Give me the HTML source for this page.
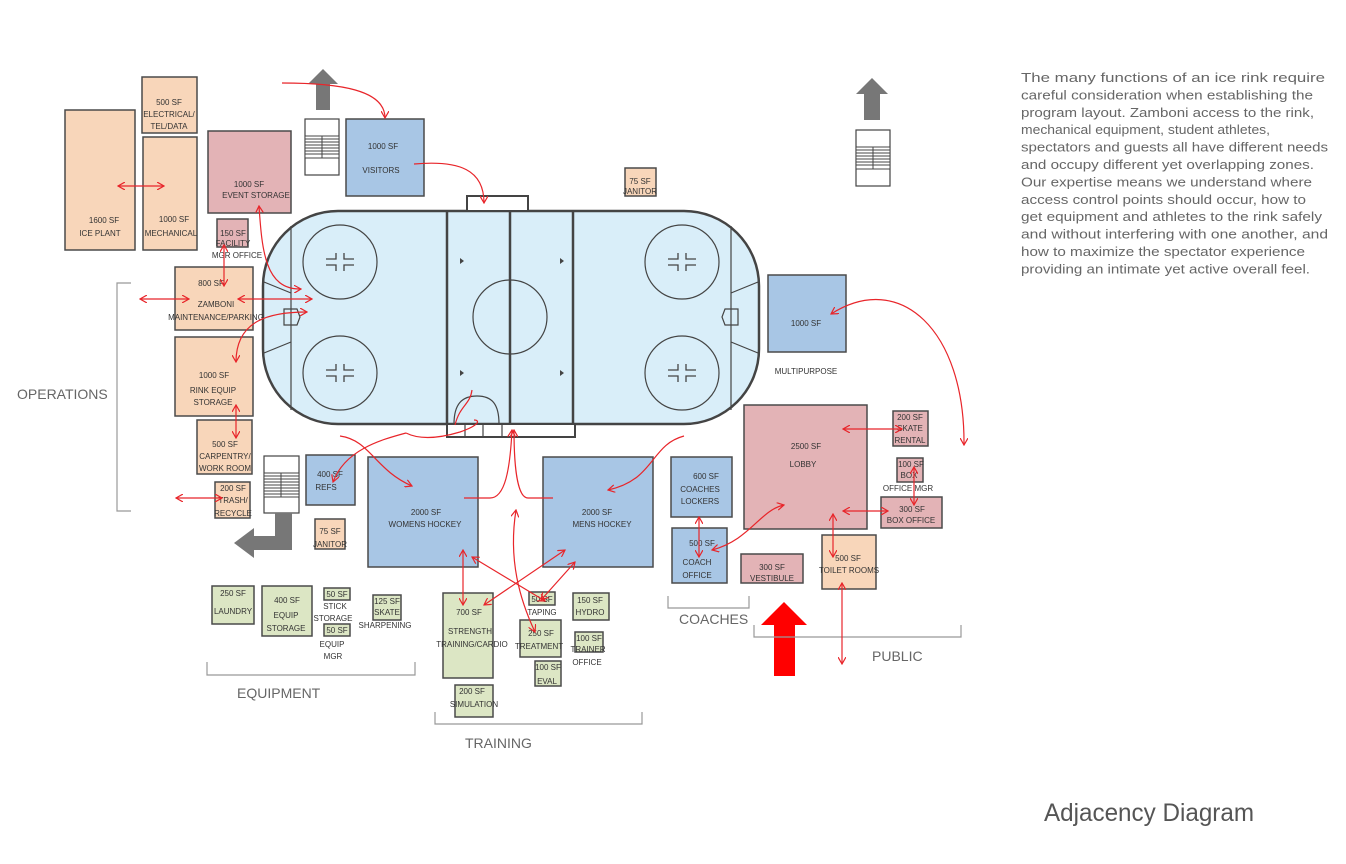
<!DOCTYPE html>
<html><head><meta charset="utf-8"><style>
html,body{margin:0;padding:0;background:#fff;}
svg{display:block;font-family:"Liberation Sans",sans-serif;}
.b{stroke:#4a4a4a;stroke-width:1.5;}
.o{fill:#f8d6ba}.p{fill:#e3b3b6}.u{fill:#a8c6e5}.g{fill:#dce6c4}
.l{font-size:8px;fill:#333;text-anchor:middle;}
.r{fill:none;stroke:#e8252a;stroke-width:1.2;}
.k{fill:none;stroke:#999;stroke-width:1.2;}
.z{font-size:14px;fill:#666;}
.t{font-size:13px;fill:#666;}
.rk{fill:none;stroke:#444;stroke-width:1.2;}
</style></head><body>
<svg width="1346" height="864" viewBox="0 0 1346 864" xmlns="http://www.w3.org/2000/svg">
<defs>
<marker id="a" markerWidth="8" markerHeight="8" refX="7" refY="4" orient="auto-start-reverse" markerUnits="userSpaceOnUse"><path d="M0,0 L7,4 L0,8" fill="none" stroke="#e8252a" stroke-width="1.2"/></marker>
</defs>

<!-- Rink -->
<rect x="263" y="211" width="496" height="213" rx="75" fill="#d9eef9" stroke="#444" stroke-width="2.5"/>
<rect x="467" y="196" width="61" height="15" fill="#fff" stroke="#444" stroke-width="2"/>
<rect x="447" y="424" width="128" height="13" fill="#fff" stroke="#444" stroke-width="2"/>
<path class="rk" d="M465,424V437M483,424V437M502,424V437"/>
<line x1="447" y1="211" x2="447" y2="424" stroke="#444" stroke-width="2.5"/>
<line x1="573" y1="211" x2="573" y2="424" stroke="#444" stroke-width="2.5"/>
<line x1="510" y1="211" x2="510" y2="424" stroke="#444" stroke-width="2.5"/>
<line x1="291" y1="226" x2="291" y2="410" stroke="#444" stroke-width="1.2"/>
<line x1="731" y1="226" x2="731" y2="410" stroke="#444" stroke-width="1.2"/>
<path class="rk" d="M264,282L291,293M264,353L291,342M758,282L731,293M758,353L731,342"/>
<path class="rk" d="M284,309h13l3,8l-3,8h-13zM738,309h-13l-3,8l3,8h13z"/>
<circle class="rk" cx="340" cy="262" r="37"/><circle class="rk" cx="340" cy="373" r="37"/>
<circle class="rk" cx="682" cy="262" r="37"/><circle class="rk" cx="682" cy="373" r="37"/>
<circle class="rk" cx="510" cy="317" r="37"/>
<path class="rk" d="M454,424c0-20 8-28 23-28s22 8 22 28"/>
<g stroke="#444" stroke-width="1.3" fill="none">
<path d="M326,259h10v-6M326,265h10v6M354,259h-10v-6M354,265h-10v6"/>
<path d="M326,370h10v-6M326,376h10v6M354,370h-10v-6M354,376h-10v6"/>
<path d="M668,259h10v-6M668,265h10v6M696,259h-10v-6M696,265h-10v6"/>
<path d="M668,370h10v-6M668,376h10v6M696,370h-10v-6M696,376h-10v6"/>
</g>
<g fill="#444"><path d="M460,258l4,3l-4,3zM560,258l4,3l-4,3zM460,370l4,3l-4,3zM560,370l4,3l-4,3z"/></g>

<!-- Operations -->
<rect class="b o" x="142" y="77" width="55" height="56"/>
<text class="l" x="169" y="105">500 SF</text><text class="l" x="169" y="117">ELECTRICAL/</text><text class="l" x="169" y="129">TEL/DATA</text>
<rect class="b o" x="65" y="110" width="70" height="140"/>
<text class="l" x="104" y="223">1600 SF</text><text class="l" x="100" y="236">ICE PLANT</text>
<rect class="b o" x="143" y="137" width="54" height="113"/>
<text class="l" x="174" y="222">1000 SF</text><text class="l" x="171" y="236">MECHANICAL</text>
<rect class="b p" x="208" y="131" width="83" height="82"/>
<text class="l" x="249" y="187">1000 SF</text><text class="l" x="256" y="198">EVENT STORAGE</text>
<rect class="b p" x="217" y="219" width="31" height="28"/>
<text class="l" x="233" y="236">150 SF</text><text class="l" x="233" y="246">FACILITY</text><text class="l" x="237" y="258">MGR OFFICE</text>
<rect class="b o" x="175" y="267" width="78" height="63"/>
<text class="l" x="211" y="286">800 SF</text><text class="l" x="216" y="307">ZAMBONI</text><text class="l" x="216" y="320">MAINTENANCE/PARKING</text>
<rect class="b o" x="175" y="337" width="78" height="79"/>
<text class="l" x="214" y="378">1000 SF</text><text class="l" x="213" y="393">RINK EQUIP</text><text class="l" x="213" y="405">STORAGE</text>
<rect class="b o" x="197" y="420" width="55" height="54"/>
<text class="l" x="225" y="447">500 SF</text><text class="l" x="225" y="459">CARPENTRY/</text><text class="l" x="225" y="471">WORK ROOM</text>
<rect class="b o" x="215" y="482" width="35" height="36"/>
<text class="l" x="233" y="491">200 SF</text><text class="l" x="233" y="503">TRASH/</text><text class="l" x="233" y="516">RECYCLE</text>

<!-- stairs -->
<g>
<rect x="305" y="119" width="34" height="56" fill="#fff" stroke="#444" stroke-width="1.2"/>
<rect x="305" y="136" width="34" height="22" fill="#fff" stroke="#444" stroke-width="1"/>
<path d="M305,139h34M305,142h34M305,145h34M305,148h34M305,151h34M305,154h34M322,136v22" stroke="#444" stroke-width="1"/>
<rect x="264" y="456" width="35" height="57" fill="#fff" stroke="#444" stroke-width="1.2"/>
<rect x="264" y="473" width="35" height="24" fill="#fff" stroke="#444" stroke-width="1"/>
<path d="M264,476h35M264,479h35M264,482h35M264,485h35M264,488h35M264,491h35M264,494h35M281,473v24" stroke="#444" stroke-width="1"/>
<rect x="856" y="130" width="34" height="56" fill="#fff" stroke="#444" stroke-width="1.2"/>
<rect x="856" y="147" width="34" height="22" fill="#fff" stroke="#444" stroke-width="1"/>
<path d="M856,150h34M856,153h34M856,156h34M856,159h34M856,162h34M856,165h34M873,147v22" stroke="#444" stroke-width="1"/>
</g>
<path d="M316,110V84h-8l15-15l15,15h-8v26z" fill="#777"/>
<path d="M864,120V94h-8l16-16l16,16h-8v26z" fill="#777"/>
<path d="M275,513h17v37h-38v8l-20,-15l20,-15v8h21z" fill="#777"/>

<!-- top middle -->
<rect class="b u" x="346" y="119" width="78" height="77"/>
<text class="l" x="383" y="149">1000 SF</text><text class="l" x="381" y="173">VISITORS</text>
<rect class="b o" x="625" y="168" width="31" height="28"/>
<text class="l" x="640" y="184">75 SF</text><text class="l" x="640" y="194">JANITOR</text>
<rect class="b u" x="768" y="275" width="78" height="77"/>
<text class="l" x="806" y="326">1000 SF</text><text class="l" x="806" y="374">MULTIPURPOSE</text>

<!-- athletes -->
<rect class="b u" x="306" y="455" width="49" height="50"/>
<text class="l" x="330" y="477">400 SF</text><text class="l" x="326" y="490">REFS</text>
<rect class="b o" x="315" y="519" width="30" height="30"/>
<text class="l" x="330" y="534">75 SF</text><text class="l" x="330" y="547">JANITOR</text>
<rect class="b u" x="368" y="457" width="110" height="110"/>
<text class="l" x="426" y="515">2000 SF</text><text class="l" x="425" y="527">WOMENS HOCKEY</text>
<rect class="b u" x="543" y="457" width="110" height="110"/>
<text class="l" x="597" y="515">2000 SF</text><text class="l" x="602" y="527">MENS HOCKEY</text>

<!-- coaches / public -->
<rect class="b u" x="671" y="457" width="61" height="60"/>
<text class="l" x="706" y="479">600 SF</text><text class="l" x="700" y="492">COACHES</text><text class="l" x="700" y="504">LOCKERS</text>
<rect class="b u" x="672" y="528" width="55" height="55"/>
<text class="l" x="702" y="546">500 SF</text><text class="l" x="697" y="565">COACH</text><text class="l" x="697" y="578">OFFICE</text>
<rect class="b p" x="741" y="554" width="62" height="29"/>
<text class="l" x="772" y="570">300 SF</text><text class="l" x="772" y="581">VESTIBULE</text>
<rect class="b p" x="744" y="405" width="123" height="124"/>
<text class="l" x="806" y="449">2500 SF</text><text class="l" x="803" y="467">LOBBY</text>
<rect class="b p" x="893" y="411" width="35" height="35"/>
<text class="l" x="910" y="420">200 SF</text><text class="l" x="910" y="431">SKATE</text><text class="l" x="910" y="443">RENTAL</text>
<rect class="b p" x="897" y="458" width="26" height="24"/>
<text class="l" x="911" y="467">100 SF</text><text class="l" x="909" y="478">BOX</text><text class="l" x="908" y="491">OFFICE MGR</text>
<rect class="b p" x="881" y="497" width="61" height="31"/>
<text class="l" x="912" y="512">300 SF</text><text class="l" x="911" y="523">BOX OFFICE</text>
<rect class="b o" x="822" y="535" width="54" height="54"/>
<text class="l" x="848" y="561">500 SF</text><text class="l" x="849" y="573">TOILET ROOMS</text>
<path d="M774,676V625h-13l23-23l23,23h-12v51z" fill="#f00"/>

<!-- equipment -->
<rect class="b g" x="212" y="586" width="42" height="38"/>
<text class="l" x="233" y="596">250 SF</text><text class="l" x="233" y="614">LAUNDRY</text>
<rect class="b g" x="262" y="586" width="50" height="50"/>
<text class="l" x="287" y="603">400 SF</text><text class="l" x="286" y="618">EQUIP</text><text class="l" x="286" y="631">STORAGE</text>
<rect class="b g" x="324" y="588" width="26" height="12"/>
<text class="l" x="337" y="597">50 SF</text><text class="l" x="335" y="609">STICK</text><text class="l" x="333" y="621">STORAGE</text>
<rect class="b g" x="324" y="624" width="26" height="12"/>
<text class="l" x="337" y="633">50 SF</text><text class="l" x="332" y="647">EQUIP</text><text class="l" x="333" y="659">MGR</text>
<rect class="b g" x="373" y="595" width="28" height="25"/>
<text class="l" x="387" y="604">125 SF</text><text class="l" x="387" y="615">SKATE</text><text class="l" x="385" y="628">SHARPENING</text>

<!-- training -->
<rect class="b g" x="443" y="593" width="50" height="85"/>
<text class="l" x="469" y="615">700 SF</text><text class="l" x="470" y="634">STRENGTH</text><text class="l" x="472" y="647">TRAINING/CARDIO</text>
<rect class="b g" x="455" y="685" width="38" height="32"/>
<text class="l" x="472" y="694">200 SF</text><text class="l" x="474" y="707">SIMULATION</text>
<rect class="b g" x="529" y="592" width="26" height="13"/>
<text class="l" x="542" y="602">50 SF</text><text class="l" x="542" y="615">TAPING</text>
<rect class="b g" x="520" y="620" width="41" height="37"/>
<text class="l" x="541" y="636">250 SF</text><text class="l" x="539" y="649">TREATMENT</text>
<rect class="b g" x="535" y="661" width="26" height="25"/>
<text class="l" x="548" y="670">100 SF</text><text class="l" x="547" y="684">EVAL</text>
<rect class="b g" x="573" y="593" width="36" height="27"/>
<text class="l" x="590" y="603">150 SF</text><text class="l" x="590" y="615">HYDRO</text>
<rect class="b g" x="575" y="632" width="28" height="20"/>
<text class="l" x="589" y="641">100 SF</text><text class="l" x="588" y="652">TRAINER</text><text class="l" x="587" y="665">OFFICE</text>

<!-- brackets -->
<path class="k" d="M131,283H117V511H131"/>
<path class="k" d="M207,662V675H415V662"/>
<path class="k" d="M435,712V724H642V712"/>
<path class="k" d="M668,596V608H749V596"/>
<path class="k" d="M754,625V637H961V625"/>
<text class="z" x="17" y="399">OPERATIONS</text>
<text class="z" x="237" y="698">EQUIPMENT</text>
<text class="z" x="465" y="748">TRAINING</text>
<text class="z" x="679" y="624">COACHES</text>
<text class="z" x="872" y="661">PUBLIC</text>

<!-- red connectors -->
<g class="r">
<path d="M118,186H164" marker-start="url(#a)" marker-end="url(#a)"/>
<path d="M282,83C340,83 385,90 385,118" marker-end="url(#a)"/>
<path d="M414,164C460,160 484,170 484,203" marker-end="url(#a)"/>
<path d="M259,206C262,250 265,290 301,289" marker-start="url(#a)" marker-end="url(#a)"/>
<path d="M224,245V286" marker-start="url(#a)" marker-end="url(#a)"/>
<path d="M140,299H189" marker-start="url(#a)" marker-end="url(#a)"/>
<path d="M238,299H312" marker-start="url(#a)" marker-end="url(#a)"/>
<path d="M236,362C236,320 270,312 307,312" marker-start="url(#a)" marker-end="url(#a)"/>
<path d="M236,405V438" marker-start="url(#a)" marker-end="url(#a)"/>
<path d="M176,498H222" marker-start="url(#a)" marker-end="url(#a)"/>
<path d="M340,436C370,440 375,470 412,486" marker-end="url(#a)"/>
<path d="M406,433C380,440 345,450 333,482" marker-end="url(#a)"/>
<path d="M406,433C420,440 440,438 460,432C480,425 480,420 474,420"/>
<path d="M464,498H490C505,498 510,470 512,430" marker-end="url(#a)"/>
<path d="M553,498H528C518,498 514,470 514,430" marker-end="url(#a)"/>
<path d="M684,436C650,445 655,480 608,490" marker-end="url(#a)"/>
<path d="M463,550V605" marker-start="url(#a)" marker-end="url(#a)"/>
<path d="M472,557L545,601" marker-start="url(#a)" marker-end="url(#a)"/>
<path d="M565,550L484,605" marker-start="url(#a)" marker-end="url(#a)"/>
<path d="M575,562L541,600" marker-start="url(#a)" marker-end="url(#a)"/>
<path d="M516,510C508,560 520,600 535,632" marker-start="url(#a)" marker-end="url(#a)"/>
<path d="M699,517V557" marker-start="url(#a)" marker-end="url(#a)"/>
<path d="M784,505C760,510 750,540 712,550" marker-start="url(#a)" marker-end="url(#a)"/>
<path d="M843,429H902" marker-start="url(#a)" marker-end="url(#a)"/>
<path d="M843,511H888" marker-start="url(#a)" marker-end="url(#a)"/>
<path d="M914,467V505" marker-start="url(#a)" marker-end="url(#a)"/>
<path d="M833,514V557" marker-start="url(#a)" marker-end="url(#a)"/>
<path d="M842,583V664" marker-start="url(#a)" marker-end="url(#a)"/>
<path d="M831,314C900,270 965,330 964,445" marker-start="url(#a)" marker-end="url(#a)"/>
<path d="M455,425C460,405 470,405 472,390" />
</g>

<!-- paragraph -->
<g class="t">
<text x="1021" y="82" textLength="304" lengthAdjust="spacingAndGlyphs">The many functions of an ice rink require</text>
<text x="1021" y="99.4" textLength="292" lengthAdjust="spacingAndGlyphs">careful consideration when establishing the</text>
<text x="1021" y="116.8" textLength="293" lengthAdjust="spacingAndGlyphs">program layout. Zamboni access to the rink,</text>
<text x="1021" y="134.2" textLength="249" lengthAdjust="spacingAndGlyphs">mechanical equipment, student athletes,</text>
<text x="1021" y="151.6" textLength="307" lengthAdjust="spacingAndGlyphs">spectators and guests all have different needs</text>
<text x="1021" y="169" textLength="293" lengthAdjust="spacingAndGlyphs">and occupy different yet overlapping zones.</text>
<text x="1021" y="186.4" textLength="291" lengthAdjust="spacingAndGlyphs">Our expertise means we understand where</text>
<text x="1021" y="203.8" textLength="285" lengthAdjust="spacingAndGlyphs">access control points should occur, how to</text>
<text x="1021" y="221.2" textLength="301" lengthAdjust="spacingAndGlyphs">get equipment and athletes to the rink safely</text>
<text x="1021" y="238.6" textLength="307" lengthAdjust="spacingAndGlyphs">and without interfering with one another, and</text>
<text x="1021" y="256" textLength="284" lengthAdjust="spacingAndGlyphs">how to maximize the spectator experience</text>
<text x="1021" y="273.4" textLength="289" lengthAdjust="spacingAndGlyphs">providing an intimate yet active overall feel.</text>
</g>
<text x="1044" y="821" font-size="25" fill="#555" textLength="210" lengthAdjust="spacingAndGlyphs">Adjacency Diagram</text>
</svg>
</body></html>
